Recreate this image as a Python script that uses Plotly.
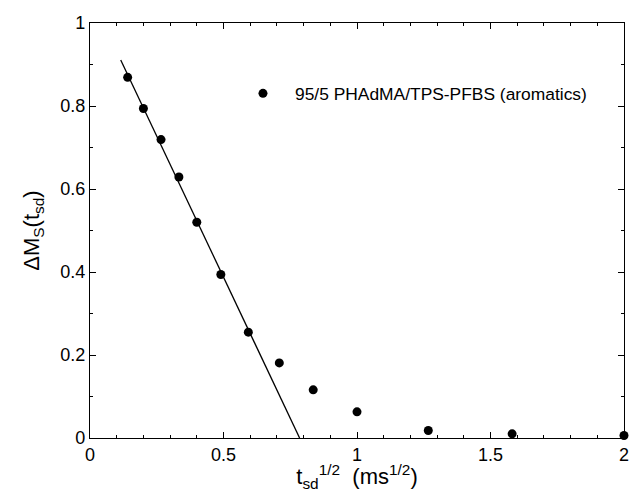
import plotly.graph_objects as go

# measured points: sqrt(t_sd) vs delta M_S
t_sqrt = [0.141, 0.200, 0.266, 0.333, 0.400, 0.490, 0.593, 0.709, 0.836, 1.000, 1.267, 1.581, 2.000]
delta_ms = [0.869, 0.794, 0.719, 0.629, 0.520, 0.394, 0.255, 0.181, 0.116, 0.063, 0.018, 0.010, 0.006]

# linear fit drawn over the early points
fit_x = [0.115, 0.785]
fit_y = [0.911, 0.0]

series_name = "95/5 PHAdMA/TPS-PFBS (aromatics)"

fig = go.Figure()

fig.add_trace(go.Scatter(x=fit_x, y=fit_y, mode="lines",
                         line=dict(color="black", width=1.3),
                         showlegend=False, hoverinfo="skip"))

fig.add_trace(go.Scatter(x=t_sqrt, y=delta_ms, mode="markers",
                         marker=dict(color="black", size=9, symbol="circle"),
                         name=series_name, cliponaxis=False))

axis_common = dict(
    showline=True, linecolor="black", linewidth=1.3, mirror="ticks",
    ticks="inside", ticklen=6, tickwidth=1.2, tickcolor="black",
    showgrid=False, zeroline=False, automargin=False,
    ticklabeloverflow="allow",
    tickfont=dict(family="Liberation Sans, Arial", size=18, color="black"),
)

fig.update_xaxes(range=[0, 2], dtick=0.5, tick0=0,
                 minor=dict(dtick=0.1, ticks="inside", ticklen=3, tickcolor="black", tickwidth=1.2),
                 title=dict(text="t<sub>sd</sub><sup>1/2</sup>  (ms<sup>1/2</sup>)",
                            font=dict(family="Liberation Sans, Arial", size=22, color="black"),
                            standoff=5),
                 **axis_common)
fig.update_yaxes(range=[0, 1], dtick=0.2, tick0=0,
                 minor=dict(dtick=0.1, ticks="inside", ticklen=3, tickcolor="black", tickwidth=1.2),
                 title=dict(text="ΔM<sub>S</sub>(t<sub>sd</sub>)",
                            font=dict(family="Liberation Sans, Arial", size=22, color="black"),
                            standoff=14),
                 **axis_common)

# the page body adds an 8px offset; figure kept small enough that no scrollbar appears
fig.update_layout(
    width=621, height=484,
    margin=dict(l=82, r=5, t=15, b=54),
    plot_bgcolor="white", paper_bgcolor="white",
    font=dict(family="Liberation Sans, Arial", color="black"),
    legend=dict(x=0.264, y=0.83, xanchor="left", yanchor="middle",
                itemwidth=54,
                bgcolor="rgba(0,0,0,0)",
                font=dict(family="Liberation Sans, Arial", size=17.4, color="black")),
)

fig.write_html("out.html")
